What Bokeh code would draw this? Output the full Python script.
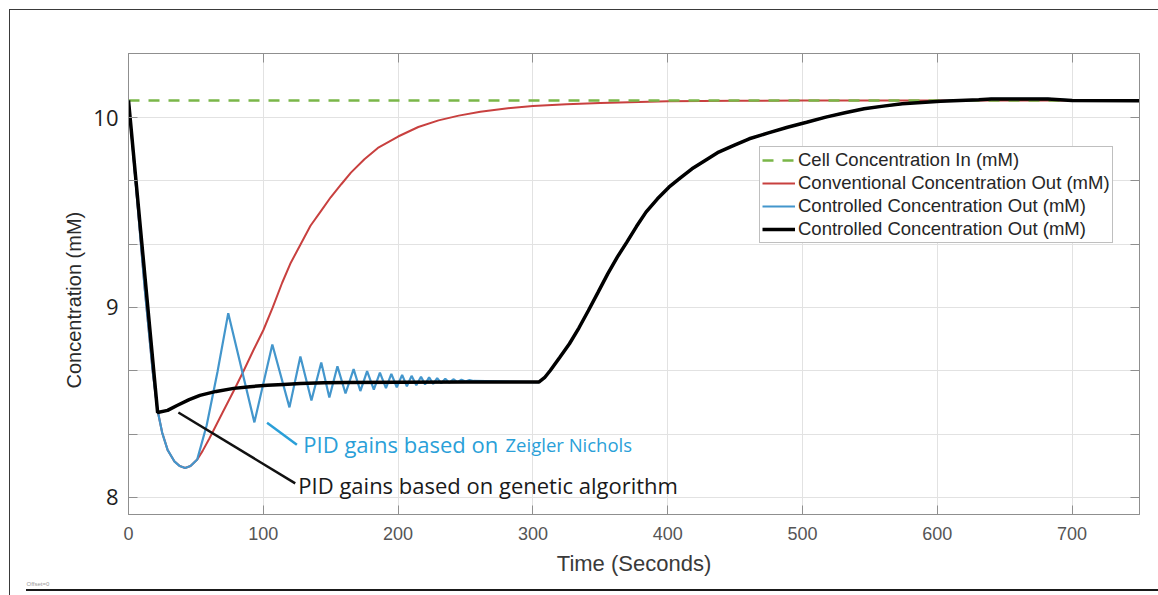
from bokeh.plotting import figure
from bokeh.models import Range1d, FixedTicker, LinearAxis, Legend, LegendItem, Label, Title
from bokeh.embed import file_html
from bokeh.resources import INLINE

# ---------------- data ----------------
x_ticks = [0, 100, 200, 300, 400, 500, 600, 700]
y_ticks = [8, 9, 10]
y_minor = [8.333, 8.667, 9.333, 9.667]

# Cell concentration in (green dashed)
t_in = [0, 750]
c_in = [10.09, 10.09]

# Conventional concentration out (red)
t_conv = [0, 3, 6, 9, 12, 15, 18, 21.5, 25, 29, 34, 38, 42, 46, 51, 55, 60, 65, 70, 78, 85, 93,
          100, 107, 114, 120, 127.5, 135, 143, 150, 158, 165, 175, 185, 200, 215, 230, 245,
          261, 280, 300, 325, 350, 400, 450, 500, 750]
c_conv = [10.09, 9.85, 9.6, 9.35, 9.1, 8.88, 8.66, 8.46, 8.34, 8.25, 8.19, 8.165, 8.155, 8.165,
          8.2, 8.245, 8.31, 8.38, 8.45, 8.56, 8.66, 8.78, 8.88, 9.0, 9.13, 9.23, 9.33, 9.43,
          9.51, 9.58, 9.65, 9.71, 9.78, 9.84, 9.9, 9.95, 9.985, 10.01, 10.03, 10.048, 10.06,
          10.07, 10.077, 10.085, 10.088, 10.09, 10.09]

# rise towards the inlet value after t = 304 s (shared by both controlled outputs)
t_rise = [304.4, 308.6, 312.9, 320.0, 327.1, 334.2, 341.2, 348.4, 355.5, 362.6, 369.7, 376.8,
          383.9, 392.4, 400.9, 409.4, 418.0, 427.8, 437.8, 449.1, 460.5, 474.7, 488.9, 503.1,
          517.3, 531.5, 545.7, 559.9, 574.0, 588.3, 602.4, 630.8, 640, 682, 700, 750]
c_rise = [8.607, 8.630, 8.668, 8.738, 8.809, 8.893, 8.984, 9.081, 9.177, 9.265, 9.344, 9.426,
          9.502, 9.572, 9.633, 9.682, 9.730, 9.774, 9.818, 9.853, 9.888, 9.919, 9.949, 9.975,
          10.002, 10.025, 10.046, 10.06, 10.072, 10.079, 10.086, 10.093, 10.098, 10.098,
          10.09, 10.088]

# Controlled concentration out, Ziegler-Nichols PID gains (blue)
t_zn = [0, 3, 6, 9, 12, 15, 18, 21.5, 25, 29, 34, 38, 42, 46, 51, 58, 66, 74,
        93.4, 106.7, 119.4, 127.5, 135.7, 143, 149, 155, 161, 167, 172, 177, 182, 186.5,
        191, 195, 199, 203, 206.5, 210, 213.5, 217, 220, 223, 226, 229, 232, 235, 238,
        241, 244, 247, 250, 253, 256] + t_rise
c_zn = [10.09, 9.85, 9.6, 9.35, 9.1, 8.88, 8.66, 8.46, 8.34, 8.25, 8.19, 8.165, 8.155, 8.165,
        8.2, 8.38, 8.66, 8.97,
        8.395, 8.805, 8.474, 8.742, 8.51, 8.71, 8.526, 8.69, 8.547, 8.675, 8.56, 8.665, 8.568,
        8.657, 8.575, 8.65, 8.58, 8.645, 8.585, 8.64, 8.59, 8.635, 8.595, 8.632, 8.598, 8.628,
        8.601, 8.625, 8.604, 8.622, 8.607, 8.62, 8.61, 8.618, 8.613] + c_rise

# Controlled concentration out, genetic-algorithm PID gains (black)
t_ga = [0, 21.6, 29, 36, 45, 53, 65, 78, 90, 103, 115, 127.5, 145, 161, 200, 250] + t_rise
c_ga = [10.09, 8.447, 8.458, 8.484, 8.515, 8.537, 8.558, 8.574, 8.583, 8.59, 8.595, 8.6,
        8.603, 8.605, 8.606, 8.607] + c_rise

# annotation leader lines
lead_zn_t = [102.8, 124.9]
lead_zn_c = [8.393, 8.277]
lead_ga_t = [37, 123.7]
lead_ga_c = [8.447, 8.074]

labels = ["Cell Concentration In (mM)", "Conventional Concentration Out (mM)",
          "Controlled Concentration Out (mM)", "Controlled Concentration Out (mM)"]

# ---------------- figure ----------------
p = figure(width=1158, height=595, x_range=Range1d(0, 750), y_range=Range1d(7.91, 10.337),
           output_backend="svg", toolbar_location=None,
           min_border_left=128, min_border_right=19, min_border_top=53, min_border_bottom=81)
p.border_fill_color = None
p.background_fill_color = "white"
p.outline_line_color = "#8f8f8f"
p.outline_line_width = 1
p.styles = {
    "background-color": "white",
    "background-image": "linear-gradient(#3a3a3a,#3a3a3a), linear-gradient(#3a3a3a,#3a3a3a), linear-gradient(#1a1a1a,#1a1a1a)",
    "background-size": "1149px 1px, 1px 586px, 1132px 2px",
    "background-position": "9px 9px, 9px 9px, 26px 589px",
    "background-repeat": "no-repeat",
}

grid_col = "#e2e2e2"
xt = FixedTicker(ticks=x_ticks)
yt = FixedTicker(ticks=y_ticks, minor_ticks=y_minor)

xa = p.xaxis[0]
xa.ticker = xt
xa.axis_label = "Time (Seconds)"
xa.axis_label_text_font = "Liberation Sans"
xa.axis_label_text_font_size = "22px"
xa.axis_label_text_font_style = "normal"
xa.axis_label_text_color = "#3a3a3a"
xa.axis_label_standoff = 8
xa.major_label_text_font = "Liberation Sans"
xa.major_label_text_font_size = "18px"
xa.major_label_text_color = "#555555"
xa.major_label_standoff = 12
xa.major_tick_in = 9
xa.major_tick_out = 0
xa.minor_tick_line_color = None
xa.axis_line_color = "#8f8f8f"
xa.major_tick_line_color = "#8f8f8f"

ya = p.yaxis[0]
ya.ticker = yt
ya.major_label_text_font = "Open Sans"
ya.major_label_text_font_size = "22px"
ya.major_label_text_color = "#1e1e1e"
ya.major_label_standoff = 10
ya.major_label_overrides = {8: "8", 9: "9", 10: "10"}
ya.major_tick_in = 9
ya.major_tick_out = 0
ya.minor_tick_in = 9
ya.minor_tick_out = 0
ya.axis_line_color = "#8f8f8f"
ya.major_tick_line_color = "#8f8f8f"
ya.minor_tick_line_color = "#8f8f8f"

p.xgrid.ticker = xt
p.ygrid.ticker = yt
p.xgrid.grid_line_color = grid_col
p.ygrid.grid_line_color = grid_col
p.ygrid.minor_grid_line_color = grid_col

for loc, tk in (("above", xt), ("right", yt)):
    ax = LinearAxis(ticker=tk, major_label_text_font_size="8px", major_label_text_color=None,
                    major_label_standoff=0,
                    major_tick_in=9, major_tick_out=0, minor_tick_in=9, minor_tick_out=0,
                    axis_line_color="#8f8f8f", major_tick_line_color="#8f8f8f",
                    minor_tick_line_color="#8f8f8f" if loc == "right" else None)
    p.add_layout(ax, loc)

# y-axis title as a side title (sits a little below the frame centre, as in the image)
p.add_layout(Title(text="Concentration (mM)", text_font="Liberation Sans",
                   text_font_size="20px", text_font_style="normal", text_color="#2a2a2a",
                   align="left", offset=126, standoff=12), "left")
# tiny footer text
p.add_layout(Title(text="Offset=0", text_font="Liberation Sans", text_font_size="6px",
                   text_font_style="normal", text_color="#9a9a9a",
                   align="left", offset=-102, standoff=0), "below")

# ---------------- series ----------------
r_red = p.line(t_conv, c_conv, line_color="#c8403f", line_width=2)
r_green = p.line(t_in, c_in, line_color="#7ab648", line_width=2.5, line_dash="11 9")
r_blue = p.line(t_zn, c_zn, line_color="#4396cc", line_width=2.2)
r_black = p.line(t_ga, c_ga, line_color="#000000", line_width=3.5)

# annotation leader lines
p.line(lead_zn_t, lead_zn_c, line_color="#2a9fd8", line_width=2.5)
p.line(lead_ga_t, lead_ga_c, line_color="#111111", line_width=2.5)

p.add_layout(Label(x=129.7, y=8.279, text="PID gains based on", text_font="Open Sans",
                   text_font_size="22px", text_color="#2a9fd8", text_baseline="middle"))
p.add_layout(Label(x=279.7, y=8.279, text="Zeigler Nichols", text_font="Open Sans",
                   text_font_size="18.5px", text_color="#2a9fd8", text_baseline="middle"))
p.add_layout(Label(x=126, y=8.063, text="PID gains based on genetic algorithm",
                   text_font="Open Sans", text_font_size="22px", text_color="#1a1a1a",
                   text_baseline="middle"))

legend = Legend(items=[LegendItem(label=labels[0], renderers=[r_green]),
                       LegendItem(label=labels[1], renderers=[r_red]),
                       LegendItem(label=labels[2], renderers=[r_blue]),
                       LegendItem(label=labels[3], renderers=[r_black])],
                location=(631, 271), label_text_font="Liberation Sans",
                label_text_font_size="18.5px", label_text_color="#262626",
                border_line_color="#808080", border_line_width=1,
                background_fill_color="white", background_fill_alpha=1.0,
                padding=2, spacing=1, margin=0, glyph_width=33, glyph_height=22,
                label_height=22, label_standoff=3)
p.add_layout(legend)

open("out.html", "w").write(file_html(p, INLINE))
